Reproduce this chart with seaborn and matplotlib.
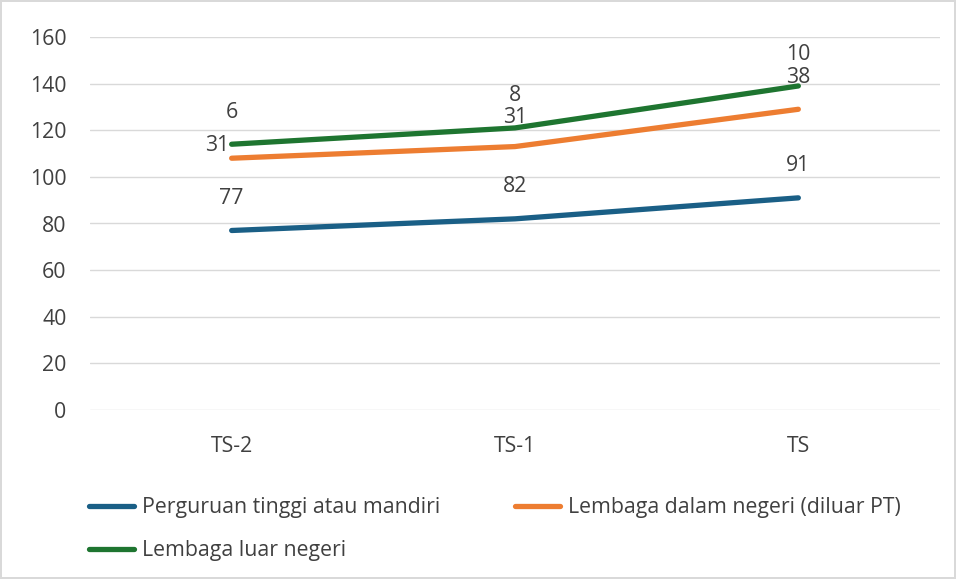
import numpy as np
import pandas as pd
import matplotlib
matplotlib.use("Agg")
import matplotlib.pyplot as plt
import seaborn as sns

# data (stacked line chart)
periods = ["TS-2", "TS-1", "TS"]
series_names = ["Perguruan tinggi atau mandiri",
                "Lembaga dalam negeri (diluar PT)",
                "Lembaga luar negeri"]
pt_values = [77, 82, 91]
dn_values = [31, 31, 38]
ln_values = [6, 8, 10]
colors = ["#1a5f86", "#ed7d31", "#1e7530"]

sns.set_theme(style="white")
plt.rcParams["font.family"] = ["Open Sans", "DejaVu Sans"]
FS = 15.3
TXT = "#404040"

raw = np.array([pt_values, dn_values, ln_values])
stacked = np.cumsum(raw, axis=0)

rows = []
for name, vals, tops in zip(series_names, raw, stacked):
    for i, p in enumerate(periods):
        rows.append({"Periode": i, "Seri": name, "Nilai": vals[i], "Atas": tops[i]})
df = pd.DataFrame(rows)

fig = plt.figure(figsize=(9.56, 5.79), dpi=100)
fig.patch.set_edgecolor("#d9d9d9")
fig.patch.set_linewidth(1.5)
ax = fig.add_axes([90 / 956, 1 - 410 / 579, 850 / 956, 373 / 579])

sns.lineplot(data=df, x="Periode", y="Atas", hue="Seri", hue_order=series_names,
             palette=colors, linewidth=3.8, ax=ax, legend=False)

ax.set_xlim(-0.5, 2.5)
ax.set_ylim(0, 160)
ax.set_yticks(range(0, 161, 20))
ax.set_xticks(range(len(periods)))
ax.set_xticklabels(periods)
ax.set_xlabel("")
ax.set_ylabel("")
ax.grid(axis="y", color="#d9d9d9", linewidth=1)
ax.set_axisbelow(True)
for s in ax.spines.values():
    s.set_visible(False)
ax.tick_params(axis="y", length=0, pad=17, labelsize=FS, labelcolor=TXT)
ax.tick_params(axis="x", length=0, pad=19, labelsize=FS, labelcolor=TXT)

# data labels (Excel style, above the points)
for _, r in df.iterrows():
    dx, dy, ha = 0, 23, "center"
    if r["Seri"] == series_names[1] and r["Periode"] == 0:
        dx, dy, ha = -2, 9, "right"
    elif r["Seri"] == series_names[1] and r["Periode"] == 1:
        dy = 21
    ax.annotate(str(r["Nilai"]), (r["Periode"], r["Atas"]), xytext=(dx, dy),
                textcoords="offset points", ha=ha, va="center",
                fontsize=FS, color=TXT)

# legend filled row by row like Excel: reorder for matplotlib's column filling
handles = [plt.Line2D([], [], color=c, linewidth=3.8) for c in colors]
order = [0, 2, 1]
fig.legend([handles[i] for i in order], [series_names[i] for i in order],
           loc="upper left", bbox_to_anchor=(70 / 956, 1 - 478 / 579),
           ncol=2, frameon=False, fontsize=FS, labelcolor=TXT,
           handlelength=2.1, handletextpad=0.4, columnspacing=3.5, labelspacing=1.05)

fig.savefig("out.png", dpi=100)
